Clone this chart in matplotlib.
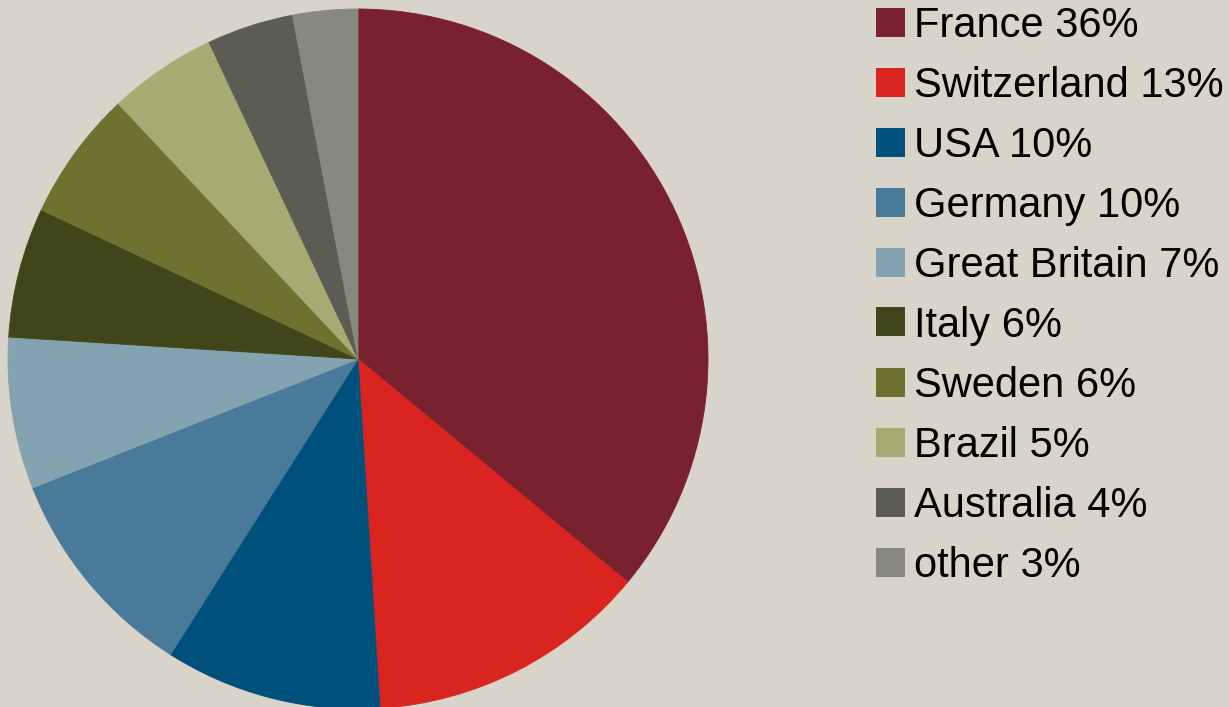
import matplotlib
matplotlib.use("Agg")
import matplotlib.pyplot as plt
from matplotlib.patches import Rectangle

countries = ["France", "Switzerland", "USA", "Germany", "Great Britain",
             "Italy", "Sweden", "Brazil", "Australia", "other"]
shares = [36, 13, 10, 10, 7, 6, 6, 5, 4, 3]
colors = ["#7A2130", "#DA241F", "#00507C", "#4A7A99", "#84A3B0",
          "#404619", "#6E712F", "#A7AB73", "#5B5C53", "#87887E"]
BG = "#D8D4CA"

W, H = 1229, 707
fig = plt.figure(figsize=(W / 100, H / 100), dpi=100, facecolor=BG)

# pie: centre (358, 359) px from top-left, radius 350 px
cx, cy, r = 358, 359, 350
ax = fig.add_axes([(cx - r) / W, (H - cy - r) / H, 2 * r / W, 2 * r / H])
ax.set_facecolor(BG)
wedges, _ = ax.pie(shares, colors=colors, startangle=90, counterclock=False, radius=1)
for w, col in zip(wedges, colors):
    w.set_edgecolor(col)
    w.set_linewidth(0.6)
ax.set_xlim(-1, 1)
ax.set_ylim(-1, 1)
ax.set_aspect("equal")
ax.axis("off")

# legend rows, drawn in pixel coordinates
to_fig = lambda x, y: (x / W, 1 - y / H)
for i, (name, pct, col) in enumerate(zip(countries, shares, colors)):
    yc = 22 + 60 * i
    x0, y0 = to_fig(876, yc + 14.5)
    fig.patches.append(Rectangle((x0, y0), 29 / W, 29 / H, transform=fig.transFigure,
                                 facecolor=col, edgecolor="none"))
    tx, ty = to_fig(914, yc + 15)
    fig.text(tx, ty, f"{name} {pct}%", fontsize=30, family="Liberation Sans",
             color="black", va="baseline", ha="left")

fig.savefig("out.png", dpi=100, facecolor=BG)
